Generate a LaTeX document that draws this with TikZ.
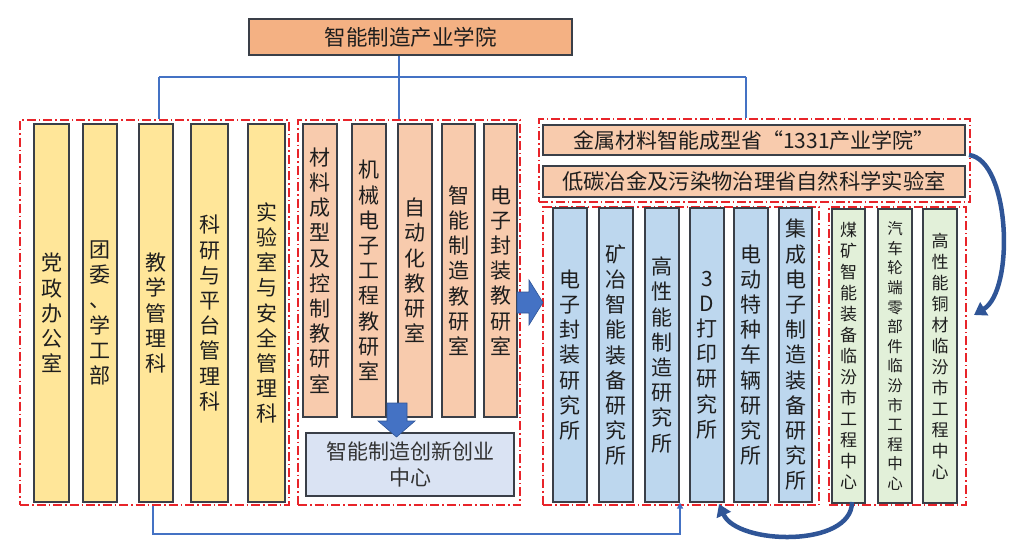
\documentclass[tikz,border=0pt]{standalone}
\usepackage{fontspec}
\setmainfont{Noto Sans CJK SC}
\usetikzlibrary{arrows.meta}
\definecolor{yel}{HTML}{FFE699}
\definecolor{org}{HTML}{F8CBAD}
\definecolor{orgd}{HTML}{F4B183}
\definecolor{blu}{HTML}{BDD7EE}
\definecolor{grn}{HTML}{E2F0D9}
\definecolor{inn}{HTML}{DAE3F3}
\definecolor{bordc}{HTML}{3A3F48}
\definecolor{lnblue}{HTML}{4472C4}
\definecolor{arrblue}{HTML}{2F5597}
\definecolor{dashred}{HTML}{E8242A}
\definecolor{txt}{HTML}{1E1E1E}
\newcommand\myvf{\fontsize{21}{25.2}\selectfont}
\begin{document}
\begin{tikzpicture}[x=1pt,y=-1pt,
  bx/.style={draw=bordc, line width=1.1pt, inner sep=0pt, align=center, text=txt},
  ybox/.style={bx, fill=yel, minimum height=378pt, font=\myvf},
  obox/.style={bx, fill=org, minimum height=293pt, font=\myvf},
  bbox/.style={bx, fill=blu, minimum height=294pt, font=\myvf},
  gbox/.style={bx, fill=grn, minimum height=294pt},
  grp/.style={draw=dashred, line width=1.1pt, dash pattern=on 9pt off 3pt on 1.5pt off 3pt, inner sep=0pt},
  conn/.style={draw=lnblue, line width=1.3pt},
  carrow/.style={draw=arrblue, line width=4.5pt, -{Triangle[width=15pt,length=12pt]}},
  fatarrow/.style={fill=lnblue, draw=arrblue, line width=0.6pt}
]
\useasboundingbox (0,0) rectangle (1024,551);

% dashed groups
\node[grp, minimum width=269pt, minimum height=385pt] (D1) at (154.5,312.5) {};
\node[grp, minimum width=222pt, minimum height=385pt] (D2) at (409,312.5) {};
\node[grp, minimum width=431pt, minimum height=83pt] (D3) at (754.5,160.5) {};
\node[grp, minimum width=276pt, minimum height=298pt] (D4) at (681,356) {};
\node[grp, minimum width=137pt, minimum height=298pt] (D5) at (897.5,356) {};

% title
\node[bx, fill=orgd, minimum width=323pt, minimum height=36pt, font=\fontsize{21.5}{25}\selectfont] (title) at (410.5,37) {智能制造产业学院};

% yellow
\node[ybox, minimum width=35pt] (y1) at (51.5,313) {党\\政\\办\\公\\室};
\node[ybox, minimum width=34pt] (y2) at (100,313) {团\\委\\、\\学\\工\\部};
\node[ybox, minimum width=34pt] (y3) at (156,313) {教\\学\\管\\理\\科};
\node[ybox, minimum width=37pt] (y4) at (209.5,313) {科\\研\\与\\平\\台\\管\\理\\科};
\node[ybox, minimum width=37pt] (y5) at (266.5,313) {实\\验\\室\\与\\安\\全\\管\\理\\科};

% orange
\node[obox, minimum width=34pt] (o1) at (320,270.5) {材\\料\\成\\型\\及\\控\\制\\教\\研\\室};
\node[obox, minimum width=34pt] (o2) at (369,270.5) {机\\械\\电\\子\\工\\程\\教\\研\\室};
\node[obox, minimum width=34pt] (o3) at (415,270.5) {自\\动\\化\\教\\研\\室};
\node[obox, minimum width=33pt] (o4) at (458.5,270.5) {智\\能\\制\\造\\教\\研\\室};
\node[obox, minimum width=33pt] (o5) at (500.5,270.5) {电\\子\\封\\装\\教\\研\\室};

% innovation centre
\node[bx, fill=inn, minimum width=208pt, minimum height=63pt, font=\myvf, text=black!80] (inn) at (410,464.5) {智能制造创新创业\\中心};

% down arrow
\draw[fatarrow] (387,403) -- (407,403) -- (407,421) -- (415,421) -- (396.5,437) -- (378,421) -- (387,421) -- cycle;

% right arrow
\draw[fatarrow] (517,292) -- (529,292) -- (529,280) -- (543,302.5) -- (529,325) -- (529,313) -- (517,313) -- cycle;

% top right
\node[bx, fill=org, minimum width=422pt, minimum height=30pt, font=\fontsize{21}{25}\selectfont] (t1) at (754,140) {金属材料智能成型省“1331产业学院”};
\node[bx, fill=org, minimum width=422pt, minimum height=31pt, font=\fontsize{21.3}{25}\selectfont] (t2) at (754,181.5) {低碳冶金及污染物治理省自然科学实验室};

% blue
\node[bbox, minimum width=34pt] (b1) at (570,355) {电\\子\\封\\装\\研\\究\\所};
\node[bbox, minimum width=34pt] (b2) at (616,355) {矿\\冶\\智\\能\\装\\备\\研\\究\\所};
\node[bbox, minimum width=34pt] (b3) at (662,355) {高\\性\\能\\制\\造\\研\\究\\所};
\node[bbox, minimum width=34pt] (b4) at (707,355) {3\\D\\打\\印\\研\\究\\所};
\node[bbox, minimum width=34pt] (b5) at (751,355) {电\\动\\特\\种\\车\\辆\\研\\究\\所};
\node[bbox, minimum width=33pt] (b6) at (795.5,355) {集\\成\\电\\子\\制\\造\\装\\备\\研\\究\\所};

% green
\node[gbox, minimum width=33pt, font=\fontsize{17}{21}\selectfont] (g1) at (848.5,356) {煤\\矿\\智\\能\\装\\备\\临\\汾\\市\\工\\程\\中\\心};
\node[gbox, minimum width=34pt, font=\fontsize{15.5}{19.6}\selectfont] (g2) at (895,356) {汽\\车\\轮\\端\\零\\部\\件\\临\\汾\\市\\工\\程\\中\\心};
\node[gbox, minimum width=34pt, font=\fontsize{17}{21}\selectfont] (g3) at (940,356) {高\\性\\能\\铜\\材\\临\\汾\\市\\工\\程\\中\\心};

% connectors
\coordinate (hub) at (399,77);
\coordinate (hl) at (159,77);
\coordinate (hr) at (746,77);
\draw[conn] (title.south -| hub) -- (hub);
\draw[conn] (hl) -- (hr);
\draw[conn] (hl) -- (hl |- D1.north);
\draw[conn] (hub) -- (hub |- D2.north);
\draw[conn] (hr) -- (hr |- D3.north);

\coordinate (bl) at (153,534);
\coordinate (br) at (680,534);
\draw[conn, -{Triangle[width=6pt,length=6pt]}] (bl |- D1.south) -- (bl) -- (br) -- (br |- b3.south);

% curved arrows
\coordinate (ca) at (969,155);
\coordinate (cb) at (974,315);
\draw[carrow] (ca) .. controls (1010,160) and (1015,290) .. (cb);
\coordinate (cc) at (852,502);
\coordinate (cd) at (719,504);
\draw[carrow] (cc) .. controls (852,548) and (737,545) .. (cd);
\end{tikzpicture}
\end{document}
